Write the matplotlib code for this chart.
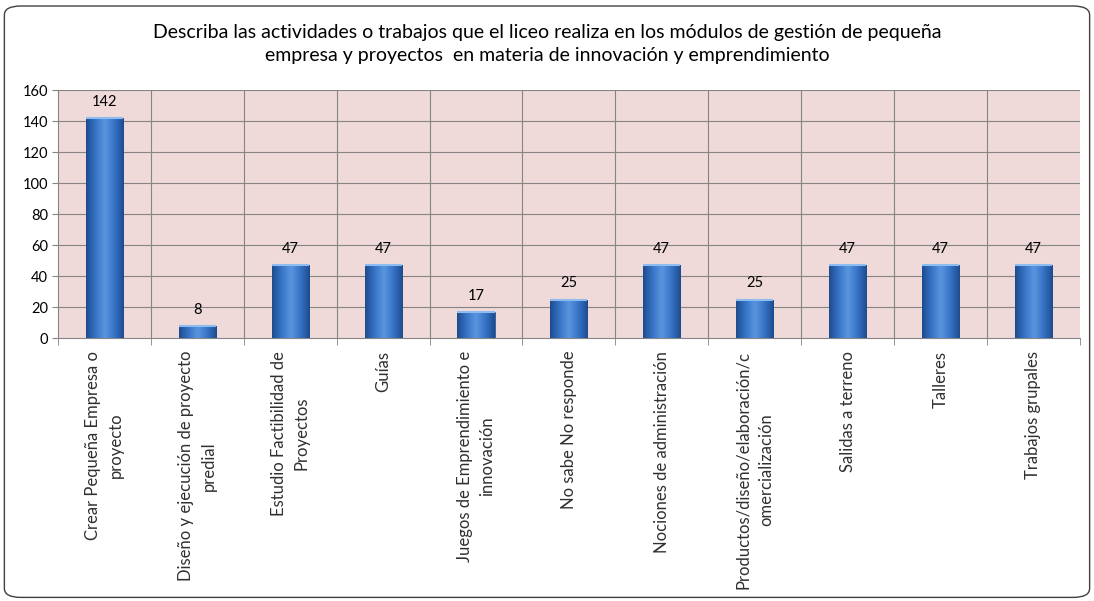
import numpy as np
import matplotlib
matplotlib.use("Agg")
import matplotlib.pyplot as plt
from matplotlib.patches import FancyBboxPatch
from matplotlib.colors import LinearSegmentedColormap

plt.rcParams['font.family'] = ['Lato', 'DejaVu Sans']

titulo = ("Describa las actividades o trabajos que el liceo realiza en los módulos de gestión de pequeña\n"
          "empresa y proyectos  en materia de innovación y emprendimiento")
categorias = [
    "Crear Pequeña Empresa o\nproyecto",
    "Diseño y ejecución de proyecto\npredial",
    "Estudio Factibilidad de\nProyectos",
    "Guías",
    "Juegos de Emprendimiento e\ninnovación",
    "No sabe No responde",
    "Nociones de administración",
    "Productos/diseño/elaboración/c\nomercialización",
    "Salidas a terreno",
    "Talleres",
    "Trabajos grupales",
]
valores = [142, 8, 47, 47, 17, 25, 47, 25, 47, 47, 47]
yticks = [0, 20, 40, 60, 80, 100, 120, 140, 160]

fig = plt.figure(figsize=(10.94, 6.01), dpi=100)

# marco redondeado del gráfico
marco = FancyBboxPatch((0.004, 0.006), 0.992, 0.984, boxstyle="round,pad=0,rounding_size=0.015",
                       transform=fig.transFigure, facecolor="white", edgecolor="#404040", lw=1.0,
                       zorder=-5)
fig.patches.append(marco)

ax = fig.add_axes([0.053, 0.437, 0.934, 0.413])
ax.set_facecolor("#efd9d9")
x = np.arange(len(valores))

# rejilla horizontal y vertical entre categorías
for y in yticks[1:]:
    ax.axhline(y, color="#858585", lw=0.8, zorder=1)
for b in np.arange(0.5, len(valores) - 0.5, 1):
    ax.axvline(b, color="#858585", lw=0.8, zorder=1)

# barras con degradado azul
cmap = LinearSegmentedColormap.from_list("azul", ["#1d4c8f", "#3774c6", "#5a95e0", "#3774c6", "#1d4c8f"])
grad = np.linspace(0, 1, 64).reshape(1, -1)
barras = ax.bar(x, valores, width=0.4, color="#3a78c8", edgecolor="#2a5a9a", lw=0.6, zorder=2)
for bar in barras:
    x0, w, h = bar.get_x(), bar.get_width(), bar.get_height()
    im = ax.imshow(grad, extent=[x0, x0 + w, 0, h], aspect="auto", cmap=cmap, zorder=3)
    im.set_clip_path(bar)
    ax.plot([x0, x0 + w], [h, h], color="#8fbcf0", lw=1.5, zorder=4, solid_capstyle="butt")

for xi, v in zip(x, valores):
    ax.text(xi, v + 6, str(v), ha="center", va="bottom", fontsize=10.5, color="black")

ax.set_yticks(yticks)
ax.set_yticklabels([str(t) for t in yticks], fontsize=10.5)
ax.set_xticks(x)
ax.set_xticklabels(categorias, rotation=90, ha="center", va="top", fontsize=12,
                   multialignment="center", color="#303030", linespacing=1.5)
ax.tick_params(axis="x", length=0, pad=9)
ax.tick_params(axis="y", length=4, direction="out", color="#858585", pad=3)
ax.set_xticks(np.arange(-0.5, len(valores), 1), minor=True)
ax.tick_params(axis="x", which="minor", length=5, direction="out", color="#858585")
for s in ["top", "right"]:
    ax.spines[s].set_visible(False)
ax.spines["left"].set_color("#858585")
ax.spines["bottom"].set_color("#858585")
ax.set_xlim(-0.5, len(valores) - 0.5)
ax.set_ylim(0, 160)

fig.text(0.5, 0.927, titulo, ha="center", va="center", fontsize=14, linespacing=1.4)

fig.savefig("out.png", dpi=100)
